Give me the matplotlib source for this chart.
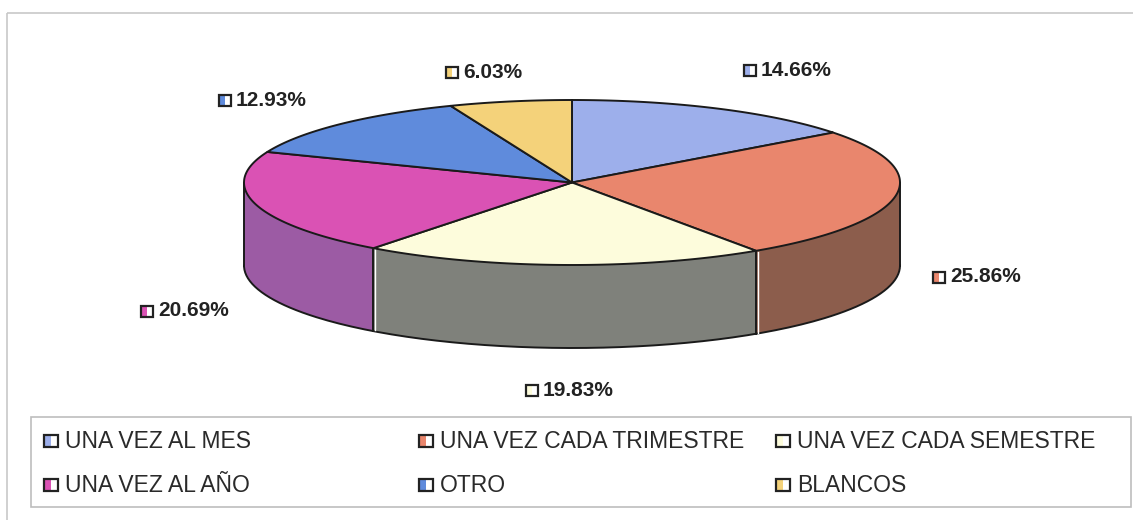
import numpy as np
import matplotlib
matplotlib.use("Agg")
import matplotlib.pyplot as plt
from matplotlib.patches import Polygon, Rectangle

# ---- data ----
categories = ["UNA VEZ AL MES", "UNA VEZ CADA TRIMESTRE", "UNA VEZ CADA SEMESTRE",
              "UNA VEZ AL AÑO", "OTRO", "BLANCOS"]
values = [14.66, 25.86, 19.83, 20.69, 12.93, 6.03]
value_labels = ["14.66%", "25.86%", "19.83%", "20.69%", "12.93%", "6.03%"]

# ---- styles ----
top_colors = ["#9DAFEB", "#E9866D", "#FDFCDC", "#DA52B4", "#5F8BDC", "#F4D27A"]
side_colors = ["#6E7FB8", "#8C5D4C", "#7F817B", "#9C5BA4", "#40609F", "#B4964E"]
# label anchor (left of marker) in pixel space
label_pos = [(743, 70), (932, 277), (525, 390), (140, 311), (218, 100), (445, 72)]
# legend layout
leg_cols = [43, 418, 775]
leg_rows = [441, 485]

W, H = 1133, 520
fig = plt.figure(figsize=(W / 100, H / 100), dpi=100)
ax = fig.add_axes([0, 0, 1, 1])
ax.set_xlim(0, W)
ax.set_ylim(H, 0)
ax.axis("off")

# outer frame and legend frame
ax.add_patch(Rectangle((7, 13), 1140, 530, fill=False, ec="#C8C8C8", lw=1.2))
ax.add_patch(Rectangle((31, 417), 1100, 90, fill=False, ec="#BDBDBD", lw=1.2, fc="white"))

# pie geometry
cx, cy, ra, rb, depth = 572, 182.5, 328, 82.5, 83
fr = np.array(values) / sum(values)
bounds = np.concatenate([[0], np.cumsum(fr)]) * 360.0


def pt(theta, dy=0.0):
    t = np.radians(theta)
    return cx + ra * np.sin(t), cy - rb * np.cos(t) + dy


def arc(t0, t1, dy=0.0):
    ts = np.linspace(t0, t1, max(int(abs(t1 - t0)) + 2, 3))
    return [pt(t, dy) for t in ts]


# side walls (visible front half: 90..270 deg clockwise from top)
for i in range(len(values)):
    s0 = max(bounds[i], 90)
    s1 = min(bounds[i + 1], 270)
    if s1 <= s0:
        continue
    poly = arc(s0, s1) + arc(s0, s1, depth)[::-1]
    ax.add_patch(Polygon(poly, closed=True, fc=side_colors[i], ec="none", zorder=2))

# wall outlines
bot = np.array(arc(90, 270, depth))
ax.plot(bot[:, 0], bot[:, 1], color="#1a1a1a", lw=1.4, zorder=3)
edge_angles = [90, 270] + [b for b in bounds[1:-1] if 90 < b < 270]
for b in edge_angles:
    x0, y0 = pt(b)
    ax.plot([x0, x0], [y0, y0 + depth], color="#1a1a1a", lw=1.4, zorder=3)
    if 90 < b < 270:
        ax.plot([x0 + 2, x0 + 2], [y0 + 1, y0 + depth - 1], color="white", lw=1.0, zorder=3)

# top faces
for i in range(len(values)):
    poly = [(cx, cy)] + arc(bounds[i], bounds[i + 1])
    ax.add_patch(Polygon(poly, closed=True, fc=top_colors[i], ec="#1a1a1a", lw=1.4,
                         joinstyle="round", zorder=4))


def marker(x, y, color, w=14, h=13):
    # little square: coloured left, white right, dark outline
    ax.add_patch(Rectangle((x, y - h / 2), w, h, fc="white", ec="none", zorder=5))
    ax.add_patch(Rectangle((x, y - h / 2), w * 0.5, h, fc=color, ec="none", zorder=5))
    ax.add_patch(Rectangle((x + 1, y - h / 2 + 1), w - 2, h - 2, fill=False,
                           ec="#222222", lw=1.6, zorder=6))


# data labels
for i, (x, y) in enumerate(label_pos):
    marker(x, y, top_colors[i])
    ax.text(x + 18, y, value_labels[i], fontsize=15, fontweight="bold",
            family="Liberation Sans", color="#222222", va="center", ha="left", zorder=6)

# legend
for i, name in enumerate(categories):
    r, c = divmod(i, 3)
    x, y = leg_cols[c], leg_rows[r]
    marker(x, y, top_colors[i], w=16, h=14)
    ax.text(x + 22, y, name, fontsize=16.5, family="Liberation Sans",
            color="#2a2a2a", va="center", ha="left", zorder=6)

fig.savefig("out.png", dpi=100)
